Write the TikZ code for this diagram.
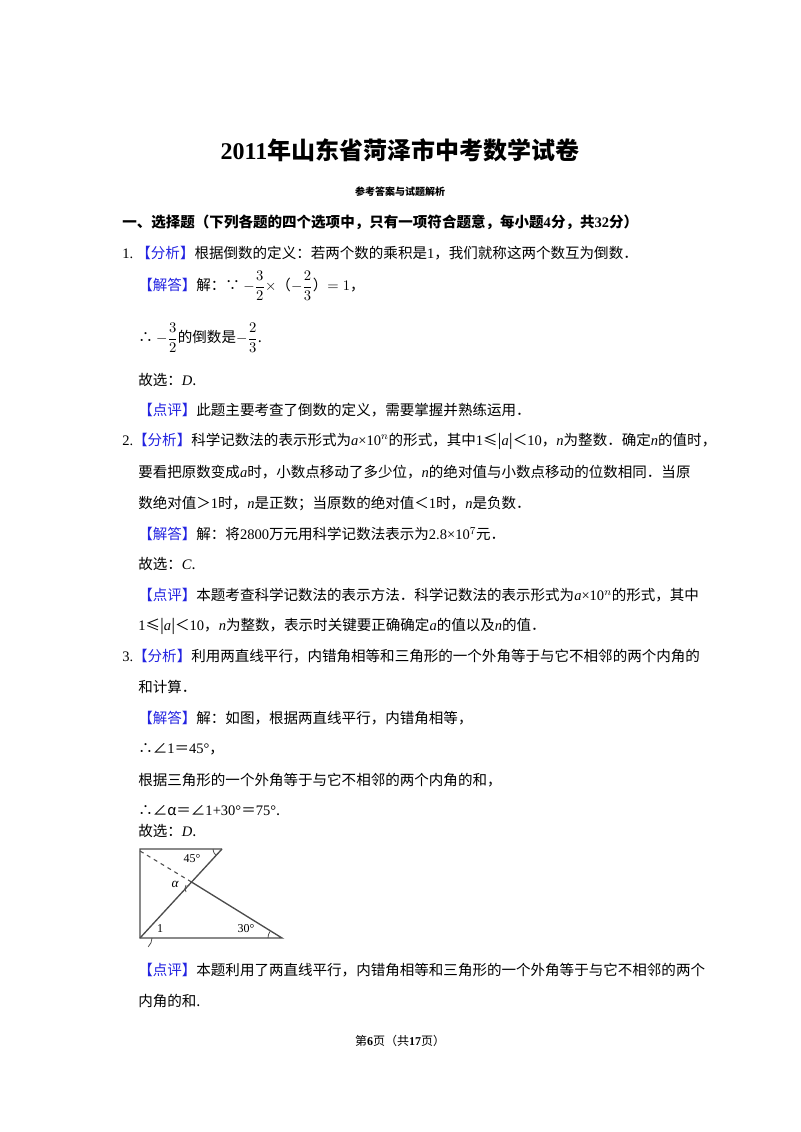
\documentclass[tikz,border=0pt]{standalone}
\usepackage{amsmath}
\usepackage{fontspec}
\setmainfont{Noto Sans CJK SC}
\newfontfamily\lat{Liberation Serif}
\newcommand{\vi}[1]{{\lat\itshape #1}}
\newcommand{\bk}[1]{\textcolor{lb}{【#1】}}
\definecolor{lb}{RGB}{35,35,225}
\begin{document}
\begin{tikzpicture}[x=0.75pt,y=-0.75pt,
  ln/.style={anchor=west,inner sep=0pt,font=\fontsize{10.9}{13}\selectfont},
  full/.style={ln}]
\useasboundingbox (0,0) rectangle (800,1132);
\fill[white] (0,0) rectangle (800,1132);
\node[inner sep=0pt,font=\fontsize{18}{20}\selectfont\bfseries] (title) at (400,150) {{\lat\bfseries 2011}年山东省菏泽市中考数学试卷};
\node[inner sep=0pt,font=\fontsize{7.5}{9}\selectfont\bfseries] (sub) at (400,192) {参考答案与试题解析};
\node[ln,font=\fontsize{10.9}{13}\selectfont\bfseries] (s1) at (122,222) {一、选择题（下列各题的四个选项中，只有一项符合题意，每小题{\lat\bfseries 4}分，共{\lat\bfseries 32}分）};
\node[ln] (l1) at (122,253) {{\lat 1.}\ \bk{分析}根据倒数的定义：若两个数的乘积是{\lat 1}，我们就称这两个数互为倒数．};
\node[ln] (l2) at (138,286) {\bk{解答}解：∵ $-\dfrac{3}{2}\times$（$-\dfrac{2}{3}$）$=1$，};
\node[ln] (l3) at (138,338) {∴ $-\dfrac{3}{2}$的倒数是$-\dfrac{2}{3}$.};
\node[ln] (l4) at (138,380) {故选：\vi{D}.};
\node[ln] (l5) at (138,410) {\bk{点评}此题主要考查了倒数的定义，需要掌握并熟练运用．};
\node[full] (l6) at (122,441) {{\lat 2.}\bk{分析}科学记数法的表示形式为\vi{a}{\lat×10}$^{n}$的形式，其中{\lat 1}≤|\vi{a}|＜{\lat 10}，\vi{n}为整数．确定\vi{n}的值时，};
\node[full] (l7) at (138,472) {要看把原数变成\vi{a}时，小数点移动了多少位，\vi{n}的绝对值与小数点移动的位数相同．当原};
\node[ln] (l8) at (138,503) {数绝对值＞{\lat 1}时，\vi{n}是正数；当原数的绝对值＜{\lat 1}时，\vi{n}是负数．};
\node[ln] (l9) at (138,534) {\bk{解答}解：将{\lat 2800}万元用科学记数法表示为{\lat 2.8×10}$^{7}$元．};
\node[ln] (l10) at (138,564) {故选：\vi{C}.};
\node[full] (l11) at (138,595) {\bk{点评}本题考查科学记数法的表示方法．科学记数法的表示形式为\vi{a}{\lat×10}$^{n}$的形式，其中};
\node[ln] (l12) at (138,626) {{\lat 1}≤|\vi{a}|＜{\lat 10}，\vi{n}为整数，表示时关键要正确确定\vi{a}的值以及\vi{n}的值．};
\node[full] (l13) at (122,656) {{\lat 3.}\bk{分析}利用两直线平行，内错角相等和三角形的一个外角等于与它不相邻的两个内角的};
\node[ln] (l14) at (138,687) {和计算．};
\node[ln] (l15) at (138,718) {\bk{解答}解：如图，根据两直线平行，内错角相等，};
\node[ln] (l16) at (138,749) {∴∠{\lat 1}＝{\lat 45°}，};
\node[ln] (l17) at (138,780) {根据三角形的一个外角等于与它不相邻的两个内角的和，};
\node[ln] (l18) at (138,811) {∴∠α＝∠{\lat 1+30°}＝{\lat 75°}.};
\node[ln] (l19) at (138,831) {故选：\vi{D}.};
% figure
\coordinate (A) at (140,849); \coordinate (B) at (222,849);
\coordinate (C) at (140,938); \coordinate (D) at (282,938);
\coordinate (E) at (191.5,882); \coordinate (F) at (140,851);
\begin{scope}[line width=1pt,gray!60!black]
\draw (B) -- (A) -- (C) -- (D) -- (E);
\draw (C) -- (B);
\draw[dashed,line width=0.8pt] (E) -- (F);
\draw[line width=0.6pt] (213,849) arc (180:130:8);
\draw[line width=0.6pt] (152,938) arc (0:47:12);
\draw[line width=0.6pt] (268,938) arc (180:212:12);
\draw[line width=0.6pt] (186,885) arc (210:150:7);
\end{scope}
\node[inner sep=0pt,font=\lat\fontsize{9}{10}\selectfont] (a45) at (192,859) {45°};
\node[inner sep=0pt,font=\lat\itshape\fontsize{10}{10}\selectfont] (al) at (175,884) {α};
\node[inner sep=0pt,font=\lat\fontsize{9}{10}\selectfont] (a1) at (160,929) {1};
\node[inner sep=0pt,font=\lat\fontsize{9}{10}\selectfont] (a30) at (246,929) {30°};
\node[full] (l20) at (138,970) {\bk{点评}本题利用了两直线平行，内错角相等和三角形的一个外角等于与它不相邻的两个};
\node[ln] (l21) at (138,1001) {内角的和.};
\node[inner sep=0pt,font=\fontsize{9}{10}\selectfont] (pg) at (400,1041) {第{\lat\bfseries 6}页（共{\lat\bfseries 17}页）};
\end{tikzpicture}
\end{document}
